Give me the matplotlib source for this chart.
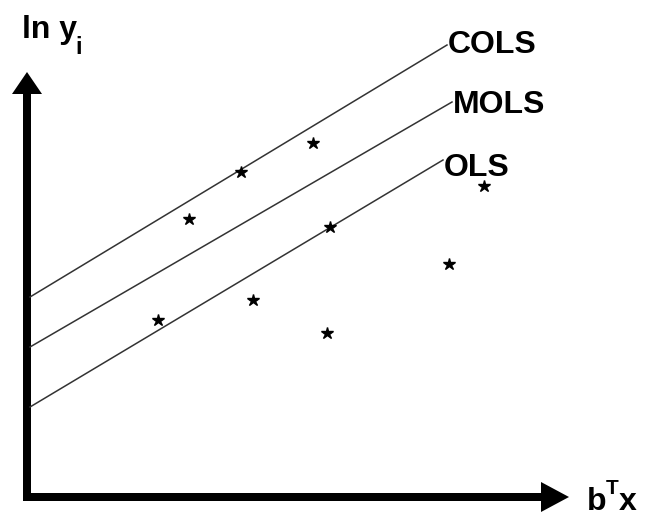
import numpy as np
import matplotlib.pyplot as plt

# frontier lines: start and end points (b'x, ln y)
line_names = ["COLS", "MOLS", "OLS"]
line_x0 = [30, 30, 30]
line_y0 = [219, 169, 109]
line_x1 = [447, 452, 443]
line_y1 = [471, 414, 356]
label_y = [471, 411, 348]

# observations
obs_x = [313, 241, 189, 330, 484, 449, 253, 158, 327]
obs_y = [373, 344, 297, 289, 330, 252, 216, 196, 183]

plt.rcParams['font.family'] = ['Liberation Sans', 'DejaVu Sans']

fig = plt.figure(figsize=(6.46, 5.16), dpi=100)
ax = fig.add_axes([0, 0, 1, 1])
ax.set_xlim(0, 646)
ax.set_ylim(0, 516)
ax.axis('off')

# axes arrows
ax.arrow(27, 15, 0, 429, width=8, head_width=30, head_length=22,
         length_includes_head=True, color="black", lw=0)
ax.arrow(23, 19, 546, 0, width=8, head_width=30, head_length=28,
         length_includes_head=True, color="black", lw=0)

for name, x0, y0, x1, y1, ly in zip(line_names, line_x0, line_y0,
                                     line_x1, line_y1, label_y):
    ax.plot([x0, x1], [y0, y1], color="#333333", lw=1.1)
    ax.text(x1 + 1, ly, name, fontsize=23, fontweight="bold",
            ha="left", va="center")

ax.plot(obs_x, obs_y, linestyle="none", marker="*", markersize=9, color="black")

ax.text(22, 486, "ln y", fontsize=23, fontweight="bold", ha="left", va="center")
ax.text(79, 468, "i", fontsize=17, fontweight="bold", ha="center", va="center")
ax.text(587, 14, "b", fontsize=23, fontweight="bold", ha="left", va="center")
ax.text(612, 28, "T", fontsize=15, fontweight="bold", ha="center", va="center")
ax.text(619, 14, "x", fontsize=23, fontweight="bold", ha="left", va="center")

fig.savefig("out.png", dpi=100)
